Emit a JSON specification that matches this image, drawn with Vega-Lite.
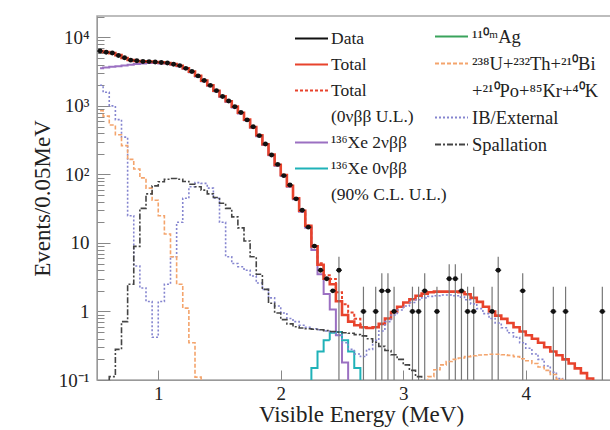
{
  "$schema": "https://vega.github.io/schema/vega-lite/v6.json",
  "autosize": {"type": "none"},
  "padding": {"left": 97, "top": 16, "right": 0, "bottom": 50},
  "width": 528,
  "height": 364,
  "background": "white",
  "config": {
    "view": {"stroke": "#a8a8a8", "strokeWidth": 1.5},
    "font": "Liberation Serif",
    "axis": {"grid": false, "domainColor": "#999", "tickColor": "#888", "labelColor": "#222", "titleColor": "#222", "labelFont": "Liberation Serif", "titleFont": "Liberation Serif", "titleFontWeight": "normal"},
    "legend": {"labelFont": "Liberation Serif", "labelColor": "#222"}
  },
  "datasets": {
    "curves": [
      {"s":"Total","E":0.525,"v":6310},{"s":"Total","E":0.575,"v":6100},{"s":"Total","E":0.625,"v":5890},{"s":"Total","E":0.675,"v":5500},{"s":"Total","E":0.725,"v":5010},{"s":"Total","E":0.775,"v":4680},{"s":"Total","E":0.825,"v":4520},{"s":"Total","E":0.875,"v":4470},{"s":"Total","E":0.925,"v":4420},{"s":"Total","E":0.975,"v":4370},{"s":"Total","E":1.025,"v":4320},{"s":"Total","E":1.075,"v":4220},{"s":"Total","E":1.125,"v":4070},{"s":"Total","E":1.175,"v":3850},{"s":"Total","E":1.225,"v":3550},{"s":"Total","E":1.275,"v":3160},{"s":"Total","E":1.325,"v":2750},{"s":"Total","E":1.375,"v":2340},{"s":"Total","E":1.425,"v":2000},{"s":"Total","E":1.475,"v":1660},{"s":"Total","E":1.525,"v":1380},{"s":"Total","E":1.575,"v":1170},{"s":"Total","E":1.625,"v":977},{"s":"Total","E":1.675,"v":794},{"s":"Total","E":1.725,"v":631},{"s":"Total","E":1.775,"v":490},{"s":"Total","E":1.825,"v":372},{"s":"Total","E":1.875,"v":275},{"s":"Total","E":1.925,"v":195},{"s":"Total","E":1.975,"v":138},{"s":"Total","E":2.025,"v":98},{"s":"Total","E":2.075,"v":68},{"s":"Total","E":2.125,"v":45},{"s":"Total","E":2.175,"v":29.5},{"s":"Total","E":2.225,"v":17.8},{"s":"Total","E":2.275,"v":8.9},{"s":"Total","E":2.325,"v":4.8},{"s":"Total","E":2.375,"v":3.0},{"s":"Total","E":2.425,"v":2.5},{"s":"Total","E":2.475,"v":1.41},{"s":"Total","E":2.525,"v":0.89},{"s":"Total","E":2.575,"v":0.71},{"s":"Total","E":2.625,"v":0.63},{"s":"Total","E":2.675,"v":0.59},{"s":"Total","E":2.725,"v":0.575},{"s":"Total","E":2.775,"v":0.59},{"s":"Total","E":2.825,"v":0.66},{"s":"Total","E":2.875,"v":0.79},{"s":"Total","E":2.925,"v":0.98},{"s":"Total","E":2.975,"v":1.17},{"s":"Total","E":3.025,"v":1.35},{"s":"Total","E":3.075,"v":1.51},{"s":"Total","E":3.125,"v":1.70},{"s":"Total","E":3.175,"v":1.82},{"s":"Total","E":3.225,"v":1.91},{"s":"Total","E":3.275,"v":1.95},{"s":"Total","E":3.325,"v":1.95},{"s":"Total","E":3.375,"v":1.95},{"s":"Total","E":3.425,"v":1.95},{"s":"Total","E":3.475,"v":1.91},{"s":"Total","E":3.525,"v":1.78},{"s":"Total","E":3.575,"v":1.58},{"s":"Total","E":3.625,"v":1.38},{"s":"Total","E":3.675,"v":1.17},{"s":"Total","E":3.725,"v":1.0},{"s":"Total","E":3.775,"v":0.87},{"s":"Total","E":3.825,"v":0.78},{"s":"Total","E":3.875,"v":0.68},{"s":"Total","E":3.925,"v":0.59},{"s":"Total","E":3.975,"v":0.51},{"s":"Total","E":4.025,"v":0.45},{"s":"Total","E":4.075,"v":0.40},{"s":"Total","E":4.125,"v":0.35},{"s":"Total","E":4.175,"v":0.30},{"s":"Total","E":4.225,"v":0.26},{"s":"Total","E":4.275,"v":0.23},{"s":"Total","E":4.325,"v":0.20},{"s":"Total","E":4.375,"v":0.174},{"s":"Total","E":4.425,"v":0.148},{"s":"Total","E":4.475,"v":0.126},{"s":"Total","E":4.525,"v":0.105},{"s":"Total","E":4.575,"v":0.089},{"s":"Total","E":4.625,"v":0.076},{"s":"Total","E":4.675,"v":0.065},

      {"s":"TotalUL","E":2.175,"v":29.5},{"s":"TotalUL","E":2.225,"v":17.9},{"s":"TotalUL","E":2.275,"v":9.05},{"s":"TotalUL","E":2.325,"v":5.06},{"s":"TotalUL","E":2.375,"v":3.38},{"s":"TotalUL","E":2.425,"v":2.99},{"s":"TotalUL","E":2.475,"v":1.91},{"s":"TotalUL","E":2.525,"v":1.27},{"s":"TotalUL","E":2.575,"v":0.97},{"s":"TotalUL","E":2.625,"v":0.78},{"s":"TotalUL","E":2.675,"v":0.59},{"s":"TotalUL","E":2.725,"v":0.575},

      {"s":"Xe2","E":0.525,"v":3550},{"s":"Xe2","E":0.575,"v":3630},{"s":"Xe2","E":0.625,"v":3720},{"s":"Xe2","E":0.675,"v":3800},{"s":"Xe2","E":0.725,"v":3890},{"s":"Xe2","E":0.775,"v":3980},{"s":"Xe2","E":0.825,"v":4070},{"s":"Xe2","E":0.875,"v":4170},{"s":"Xe2","E":0.925,"v":4220},{"s":"Xe2","E":0.975,"v":4220},{"s":"Xe2","E":1.025,"v":4170},{"s":"Xe2","E":1.075,"v":4150},{"s":"Xe2","E":1.125,"v":4000},{"s":"Xe2","E":1.175,"v":3780},{"s":"Xe2","E":1.225,"v":3480},{"s":"Xe2","E":1.275,"v":3090},{"s":"Xe2","E":1.325,"v":2690},{"s":"Xe2","E":1.375,"v":2290},{"s":"Xe2","E":1.425,"v":1960},{"s":"Xe2","E":1.475,"v":1630},{"s":"Xe2","E":1.525,"v":1350},{"s":"Xe2","E":1.575,"v":1140},{"s":"Xe2","E":1.625,"v":950},{"s":"Xe2","E":1.675,"v":775},{"s":"Xe2","E":1.725,"v":615},{"s":"Xe2","E":1.775,"v":478},{"s":"Xe2","E":1.825,"v":362},{"s":"Xe2","E":1.875,"v":268},{"s":"Xe2","E":1.925,"v":190},{"s":"Xe2","E":1.975,"v":134},{"s":"Xe2","E":2.025,"v":95},{"s":"Xe2","E":2.075,"v":66},{"s":"Xe2","E":2.125,"v":43.5},{"s":"Xe2","E":2.175,"v":28.5},{"s":"Xe2","E":2.225,"v":16.6},{"s":"Xe2","E":2.275,"v":7.9},{"s":"Xe2","E":2.325,"v":3.5},{"s":"Xe2","E":2.375,"v":1.8},{"s":"Xe2","E":2.425,"v":1.07},{"s":"Xe2","E":2.475,"v":0.45},{"s":"Xe2","E":2.525,"v":0.18},{"s":"Xe2","E":2.575,"v":0.05},

      {"s":"Xe0","E":2.225,"v":0.03},{"s":"Xe0","E":2.275,"v":0.15},{"s":"Xe0","E":2.325,"v":0.26},{"s":"Xe0","E":2.375,"v":0.38},{"s":"Xe0","E":2.425,"v":0.49},{"s":"Xe0","E":2.475,"v":0.50},{"s":"Xe0","E":2.525,"v":0.38},{"s":"Xe0","E":2.575,"v":0.26},{"s":"Xe0","E":2.625,"v":0.15},{"s":"Xe0","E":2.675,"v":0.03},

      {"s":"IB","E":0.525,"v":2000},{"s":"IB","E":0.575,"v":1580},{"s":"IB","E":0.625,"v":1000},{"s":"IB","E":0.675,"v":630},{"s":"IB","E":0.725,"v":350},{"s":"IB","E":0.775,"v":25},{"s":"IB","E":0.825,"v":4.6},{"s":"IB","E":0.875,"v":2.2},{"s":"IB","E":0.925,"v":1.4},{"s":"IB","E":0.975,"v":0.42},{"s":"IB","E":1.025,"v":1.4},{"s":"IB","E":1.075,"v":2.5},{"s":"IB","E":1.125,"v":6.3},{"s":"IB","E":1.175,"v":20},{"s":"IB","E":1.225,"v":45},{"s":"IB","E":1.275,"v":66},{"s":"IB","E":1.325,"v":76},{"s":"IB","E":1.375,"v":74},{"s":"IB","E":1.425,"v":63},{"s":"IB","E":1.475,"v":45},{"s":"IB","E":1.525,"v":20},{"s":"IB","E":1.575,"v":6.3},{"s":"IB","E":1.625,"v":5.0},{"s":"IB","E":1.675,"v":4.5},{"s":"IB","E":1.725,"v":4.0},{"s":"IB","E":1.775,"v":3.3},{"s":"IB","E":1.825,"v":2.6},{"s":"IB","E":1.875,"v":2.1},{"s":"IB","E":1.925,"v":1.58},{"s":"IB","E":1.975,"v":1.2},{"s":"IB","E":2.025,"v":0.95},{"s":"IB","E":2.075,"v":0.79},{"s":"IB","E":2.125,"v":0.71},{"s":"IB","E":2.175,"v":0.63},{"s":"IB","E":2.225,"v":0.59},{"s":"IB","E":2.275,"v":0.56},{"s":"IB","E":2.325,"v":0.54},{"s":"IB","E":2.375,"v":0.52},{"s":"IB","E":2.425,"v":0.50},{"s":"IB","E":2.475,"v":0.45},{"s":"IB","E":2.525,"v":0.35},{"s":"IB","E":2.575,"v":0.28},{"s":"IB","E":2.625,"v":0.24},{"s":"IB","E":2.675,"v":0.22},{"s":"IB","E":2.725,"v":0.28},{"s":"IB","E":2.775,"v":0.38},{"s":"IB","E":2.825,"v":0.52},{"s":"IB","E":2.875,"v":0.71},{"s":"IB","E":2.925,"v":0.89},{"s":"IB","E":2.975,"v":1.05},{"s":"IB","E":3.025,"v":1.2},{"s":"IB","E":3.075,"v":1.35},{"s":"IB","E":3.125,"v":1.48},{"s":"IB","E":3.175,"v":1.58},{"s":"IB","E":3.225,"v":1.66},{"s":"IB","E":3.275,"v":1.70},{"s":"IB","E":3.325,"v":1.74},{"s":"IB","E":3.375,"v":1.74},{"s":"IB","E":3.425,"v":1.70},{"s":"IB","E":3.475,"v":1.62},{"s":"IB","E":3.525,"v":1.48},{"s":"IB","E":3.575,"v":1.29},{"s":"IB","E":3.625,"v":1.10},{"s":"IB","E":3.675,"v":0.93},{"s":"IB","E":3.725,"v":0.79},{"s":"IB","E":3.775,"v":0.68},{"s":"IB","E":3.825,"v":0.58},{"s":"IB","E":3.875,"v":0.49},{"s":"IB","E":3.925,"v":0.42},{"s":"IB","E":3.975,"v":0.35},{"s":"IB","E":4.025,"v":0.29},{"s":"IB","E":4.075,"v":0.24},{"s":"IB","E":4.125,"v":0.20},{"s":"IB","E":4.175,"v":0.16},{"s":"IB","E":4.225,"v":0.13},{"s":"IB","E":4.275,"v":0.105},{"s":"IB","E":4.325,"v":0.08},{"s":"IB","E":4.375,"v":0.06},

      {"s":"UTh","E":0.525,"v":850},{"s":"UTh","E":0.575,"v":710},{"s":"UTh","E":0.625,"v":525},{"s":"UTh","E":0.675,"v":380},{"s":"UTh","E":0.725,"v":263},{"s":"UTh","E":0.775,"v":166},{"s":"UTh","E":0.825,"v":120},{"s":"UTh","E":0.875,"v":89},{"s":"UTh","E":0.925,"v":63},{"s":"UTh","E":0.975,"v":42},{"s":"UTh","E":1.025,"v":25},{"s":"UTh","E":1.075,"v":13.5},{"s":"UTh","E":1.125,"v":6.3},{"s":"UTh","E":1.175,"v":2.5},{"s":"UTh","E":1.225,"v":1.12},{"s":"UTh","E":1.275,"v":0.35},{"s":"UTh","E":1.325,"v":0.11},{"s":"UTh","E":1.375,"v":0.03},
      {"s":"UTh","E":3.125,"v":0.05},{"s":"UTh","E":3.175,"v":0.079},{"s":"UTh","E":3.225,"v":0.112},{"s":"UTh","E":3.275,"v":0.141},{"s":"UTh","E":3.325,"v":0.166},{"s":"UTh","E":3.375,"v":0.186},{"s":"UTh","E":3.425,"v":0.20},{"s":"UTh","E":3.475,"v":0.209},{"s":"UTh","E":3.525,"v":0.219},{"s":"UTh","E":3.575,"v":0.226},{"s":"UTh","E":3.625,"v":0.232},{"s":"UTh","E":3.675,"v":0.234},{"s":"UTh","E":3.725,"v":0.237},{"s":"UTh","E":3.775,"v":0.237},{"s":"UTh","E":3.825,"v":0.234},{"s":"UTh","E":3.875,"v":0.229},{"s":"UTh","E":3.925,"v":0.219},{"s":"UTh","E":3.975,"v":0.204},{"s":"UTh","E":4.025,"v":0.191},{"s":"UTh","E":4.075,"v":0.174},{"s":"UTh","E":4.125,"v":0.155},{"s":"UTh","E":4.175,"v":0.138},{"s":"UTh","E":4.225,"v":0.120},{"s":"UTh","E":4.275,"v":0.102},{"s":"UTh","E":4.325,"v":0.085},{"s":"UTh","E":4.375,"v":0.063},

      {"s":"Spall","E":0.575,"v":0.032},{"s":"Spall","E":0.625,"v":0.112},{"s":"Spall","E":0.675,"v":0.28},{"s":"Spall","E":0.725,"v":0.71},{"s":"Spall","E":0.775,"v":2.5},{"s":"Spall","E":0.825,"v":8.9},{"s":"Spall","E":0.875,"v":32},{"s":"Spall","E":0.925,"v":52},{"s":"Spall","E":0.975,"v":68},{"s":"Spall","E":1.025,"v":78},{"s":"Spall","E":1.075,"v":85},{"s":"Spall","E":1.125,"v":87},{"s":"Spall","E":1.175,"v":85},{"s":"Spall","E":1.225,"v":79},{"s":"Spall","E":1.275,"v":72},{"s":"Spall","E":1.325,"v":66},{"s":"Spall","E":1.375,"v":59},{"s":"Spall","E":1.425,"v":52},{"s":"Spall","E":1.475,"v":46},{"s":"Spall","E":1.525,"v":38},{"s":"Spall","E":1.575,"v":32},{"s":"Spall","E":1.625,"v":24},{"s":"Spall","E":1.675,"v":16.6},{"s":"Spall","E":1.725,"v":10.7},{"s":"Spall","E":1.775,"v":6.3},{"s":"Spall","E":1.825,"v":3.5},{"s":"Spall","E":1.875,"v":2.1},{"s":"Spall","E":1.925,"v":1.32},{"s":"Spall","E":1.975,"v":0.95},{"s":"Spall","E":2.025,"v":0.76},{"s":"Spall","E":2.075,"v":0.66},{"s":"Spall","E":2.125,"v":0.60},{"s":"Spall","E":2.175,"v":0.575},{"s":"Spall","E":2.225,"v":0.56},{"s":"Spall","E":2.275,"v":0.55},{"s":"Spall","E":2.325,"v":0.54},{"s":"Spall","E":2.375,"v":0.525},{"s":"Spall","E":2.425,"v":0.51},{"s":"Spall","E":2.475,"v":0.50},{"s":"Spall","E":2.525,"v":0.49},{"s":"Spall","E":2.575,"v":0.48},{"s":"Spall","E":2.625,"v":0.46},{"s":"Spall","E":2.675,"v":0.44},{"s":"Spall","E":2.725,"v":0.40},{"s":"Spall","E":2.775,"v":0.355},{"s":"Spall","E":2.825,"v":0.31},{"s":"Spall","E":2.875,"v":0.27},{"s":"Spall","E":2.925,"v":0.234},{"s":"Spall","E":2.975,"v":0.20},{"s":"Spall","E":3.025,"v":0.166},{"s":"Spall","E":3.075,"v":0.138},{"s":"Spall","E":3.125,"v":0.112},{"s":"Spall","E":3.175,"v":0.089},{"s":"Spall","E":3.225,"v":0.071}
    ],
    "points": [
      {"E":0.525,"n":6310},{"E":0.575,"n":6050},{"E":0.625,"n":5900},{"E":0.675,"n":5450},{"E":0.725,"n":5050},{"E":0.775,"n":4650},{"E":0.825,"n":4550},{"E":0.875,"n":4450},{"E":0.925,"n":4430},{"E":0.975,"n":4380},{"E":1.025,"n":4300},{"E":1.075,"n":4230},{"E":1.125,"n":4050},{"E":1.175,"n":3870},{"E":1.225,"n":3530},{"E":1.275,"n":3170},{"E":1.325,"n":2740},{"E":1.375,"n":2350},{"E":1.425,"n":1990},{"E":1.475,"n":1670},{"E":1.525,"n":1370},{"E":1.575,"n":1180},{"E":1.625,"n":970},{"E":1.675,"n":800},{"E":1.725,"n":625},{"E":1.775,"n":495},{"E":1.825,"n":368},{"E":1.875,"n":278},{"E":1.925,"n":192},{"E":1.975,"n":140},{"E":2.025,"n":96},{"E":2.075,"n":70},{"E":2.125,"n":44},{"E":2.175,"n":30},{"E":2.225,"n":17},{"E":2.275,"n":9},{"E":2.325,"n":4},{"E":2.375,"n":3},{"E":2.425,"n":2},
      {"E":2.475,"n":4,"lo":0.05,"hi":6.3},{"E":2.675,"n":1,"lo":0.05,"hi":2.3},{"E":2.775,"n":1,"lo":0.05,"hi":2.3},{"E":2.825,"n":2,"lo":0.05,"hi":3.6},{"E":2.875,"n":2,"lo":0.05,"hi":3.6},{"E":2.925,"n":1,"lo":0.05,"hi":2.3},{"E":3.075,"n":1,"lo":0.05,"hi":2.3},{"E":3.125,"n":1,"lo":0.05,"hi":2.3},{"E":3.175,"n":2,"lo":0.05,"hi":3.6},{"E":3.275,"n":1,"lo":0.05,"hi":2.3},{"E":3.375,"n":3,"lo":0.05,"hi":4.9},{"E":3.425,"n":3,"lo":0.05,"hi":4.9},{"E":3.475,"n":2,"lo":0.05,"hi":3.6},{"E":3.525,"n":1,"lo":0.05,"hi":2.3},{"E":3.575,"n":1,"lo":0.05,"hi":2.3},{"E":3.725,"n":1,"lo":0.05,"hi":2.3},{"E":3.775,"n":4,"lo":0.05,"hi":6.3},{"E":3.975,"n":2,"lo":0.05,"hi":3.6},{"E":4.225,"n":1,"lo":0.05,"hi":2.3},{"E":4.325,"n":1,"lo":0.05,"hi":2.3},{"E":4.625,"n":1,"lo":0.05,"hi":2.3}
    ]
  },
  "layer": [
    {
      "layer": [
        {
          "data": {"name": "curves"},
          "transform": [{"filter": "datum.s == 'TotalUL' || datum.s == 'Xe2' || datum.s == 'Xe0'"}],
          "mark": {"type": "line", "interpolate": "step", "strokeWidth": 2, "clip": true},
          "encoding": {
            "x": {"field": "E", "type": "quantitative", "scale": {"domain": [0.5, 4.81], "nice": false, "zero": false},
                  "axis": {"values": [1, 2, 3, 4], "format": "d", "tickSize": -10, "labelFontSize": 19, "labelPadding": 14, "title": "Visible Energy (MeV)", "titleFontSize": 23, "titlePadding": 0}},
            "y": {"field": "v", "type": "quantitative", "scale": {"type": "log", "domain": [0.1, 20500], "nice": false},
                  "axis": {"values": [0.1, 1, 10, 100, 1000, 10000], "tickSize": -13, "labelFontSize": 19, "labelPadding": 21,
                           "labelExpr": "datum.value == 10000 ? '10⁴' : datum.value == 1000 ? '10³' : datum.value == 100 ? '10²' : datum.value == 10 ? '10' : datum.value == 1 ? '1' : '10⁻¹'",
                           "title": "Events/0.05MeV", "titleFontSize": 23, "titlePadding": 4}},
            "color": {"field": "s", "type": "nominal",
                      "scale": {"domain": ["Data", "Total", "TotalUL", "UL1", "Xe2", "Xe0", "CL"], "range": ["#111111", "#e8432c", "#e8432c", "#ffffff", "#9b70c2", "#1fb2b8", "#ffffff"]},
                      "legend": {"orient": "none", "legendX": 197, "legendY": 5, "title": null, "symbolType": "stroke", "symbolSize": 1089, "symbolStrokeWidth": 2, "labelFontSize": 17.5, "labelLimit": 300, "labelOffset": 2, "rowPadding": 0, "gridAlign": "all",
                                 "labelExpr": "datum.label == 'Data' ? 'Data' : datum.label == 'Total' ? 'Total' : datum.label == 'TotalUL' ? 'Total' : datum.label == 'UL1' ? '(0νββ U.L.)' : datum.label == 'Xe2' ? '¹³⁶Xe 2νββ' : datum.label == 'Xe0' ? '¹³⁶Xe 0νββ' : '(90% C.L. U.L.)'",
                                 "encode": {"symbols": {"update": {"opacity": {"signal": "datum.value == 'UL1' || datum.value == 'CL' ? 0 : 1"}}}}}},
            "strokeDash": {"field": "s", "type": "nominal",
                           "scale": {"domain": ["Data", "Total", "TotalUL", "UL1", "Xe2", "Xe0", "CL"], "range": [[1, 0], [1, 0], [3, 2], [1, 0], [1, 0], [1, 0], [1, 0]]}}
          }
        },
        {
          "data": {"name": "curves"},
          "transform": [{"filter": "datum.s == 'Total'"}],
          "mark": {"type": "line", "interpolate": "step", "strokeWidth": 2.6, "clip": true},
          "encoding": {
            "x": {"field": "E", "type": "quantitative"},
            "y": {"field": "v", "type": "quantitative"},
            "color": {"field": "s", "type": "nominal"},
            "strokeDash": {"field": "s", "type": "nominal"}
          }
        },
        {
          "data": {"name": "points"},
          "mark": {"type": "rule", "color": "#777", "strokeWidth": 1.2, "clip": true},
          "encoding": {
            "x": {"field": "E", "type": "quantitative"},
            "y": {"field": "lo", "type": "quantitative"},
            "y2": {"field": "hi"}
          }
        },
        {
          "data": {"name": "points"},
          "mark": {"type": "tick", "orient": "horizontal", "size": 6, "thickness": 1.5, "color": "#111", "clip": true},
          "encoding": {
            "x": {"field": "E", "type": "quantitative"},
            "y": {"field": "n", "type": "quantitative"}
          }
        },
        {
          "data": {"name": "points"},
          "mark": {"type": "point", "filled": true, "size": 24, "color": "#111", "opacity": 1, "clip": true},
          "encoding": {
            "x": {"field": "E", "type": "quantitative"},
            "y": {"field": "n", "type": "quantitative"}
          }
        }
      ]
    },
    {
      "data": {"name": "curves"},
      "transform": [{"filter": "datum.s == 'IB' || datum.s == 'UTh' || datum.s == 'Spall'"}],
      "mark": {"type": "line", "interpolate": "step", "strokeWidth": 1.6, "clip": true},
      "encoding": {
        "x": {"field": "E", "type": "quantitative"},
        "y": {"field": "v", "type": "quantitative", "axis": null},
        "color": {"field": "s", "type": "nominal",
                  "scale": {"domain": ["Ag", "UTh", "UTh2", "IB", "Spall"], "range": ["#3aa35c", "#f4a46c", "#ffffff", "#8585cf", "#444444"]},
                  "legend": {"orient": "none", "legendX": 337, "legendY": 3, "title": null, "symbolType": "stroke", "symbolSize": 1089, "symbolStrokeWidth": 2, "labelFontSize": 18.5, "labelLimit": 300, "labelOffset": 3, "rowPadding": 0, "gridAlign": "all",
                             "labelExpr": "datum.label == 'Ag' ? '¹¹⁰ᵐAg' : datum.label == 'UTh' ? '²³⁸U+²³²Th+²¹⁰Bi' : datum.label == 'UTh2' ? '+²¹⁰Po+⁸⁵Kr+⁴⁰K' : datum.label == 'IB' ? 'IB/External' : 'Spallation'",
                             "encode": {"symbols": {"update": {"opacity": {"signal": "datum.value == 'UTh2' ? 0 : 1"}}}}}},
        "strokeDash": {"field": "s", "type": "nominal",
                       "scale": {"domain": ["Ag", "UTh", "UTh2", "IB", "Spall"], "range": [[1, 0], [4, 2], [1, 0], [2, 2], [6, 2, 2, 2]]}}
      }
    },
    {
      "mark": {"type": "rule", "color": "#999", "strokeWidth": 1.2},
      "encoding": {"x": {"datum": 0.8}}
    },
    {
      "mark": {"type": "text", "font": "Liberation Serif", "fontSize": 19, "color": "#222"},
      "encoding": {
        "x": {"datum": 1.47},
        "y": {"datum": 10000, "axis": {"orient": "left", "values": [0.2,0.3,0.4,0.5,0.6,0.7,0.8,0.9,2,3,4,5,6,7,8,9,20,30,40,50,60,70,80,90,200,300,400,500,600,700,800,900,2000,3000,4000,5000,6000,7000,8000,9000,20000], "tickSize": -7, "labels": false, "domain": false, "title": null}},
        "text": {"value": "Period-2"}
      }
    }
  ],
  "resolve": {"scale": {"color": "independent", "strokeDash": "independent"}, "axis": {"y": "independent"}}
}
